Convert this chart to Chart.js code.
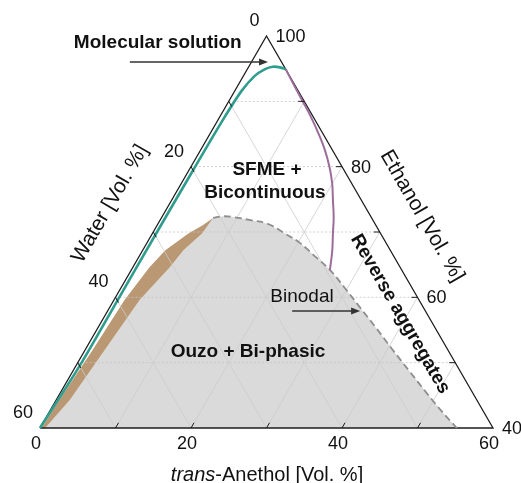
<!DOCTYPE html>
<html>
<head>
<meta charset="utf-8">
<script src="https://cdn.jsdelivr.net/npm/chart.js@4.4.0/dist/chart.umd.min.js"></script>
<style>
  html, body { margin: 0; padding: 0; background: #fff; }
  #wrap { width: 521px; height: 483px; }
</style>
</head>
<body>
<div id="wrap"><canvas id="ternary"></canvas></div>
<script>
// compositions, vol. % (ethanol = 100 - anethol - water)
const gridSteps = [10, 20, 30, 40, 50];
const anetholLabels = [0, 20, 40, 60];
const waterLabels = [0, 20, 40, 60];
const ethanolLabels = [40, 60, 80, 100];

const tealAnethol = [0, 0.5, 0.5, 0.5, 0.55, 0.65, 0.9, 1.5, 2.3, 3.2, 4.2, 5.1];
const tealWater   = [60, 50, 40, 30, 20, 12, 7.5, 4.6, 2.8, 1.5, 0.6, 0];

const purpleAnethol = [5.1, 7, 9.6, 12, 14.5, 16.5, 18.4, 20, 21.4, 22.8, 23.9, 25.2, 26.3];
const purpleWater   = [0, 0.1, 0.2, 0.3, 0.6, 1.0, 1.7, 2.6, 3.8, 5.0, 6.3, 7.8, 9.5];

const binodalAnethol = [6.85, 8, 9.4, 12, 14.4, 17.5, 20.3, 23.4, 26.3, 29.7, 33.1, 37, 40.8, 44.7, 48.6, 52, 55.2];
const binodalWater   = [21.0, 19.6, 18.3, 16.2, 14.3, 12.7, 11.4, 10.4, 9.5, 8.9, 8.4, 7.8, 7.3, 6.7, 6.1, 5.5, 4.8];

const tanLeftAnethol  = [0.2, 0.4, 1.0, 1.4, 2.2, 3.0, 4.8, 6.0, 6.85];
const tanLeftWater    = [59.8, 55.3, 47.1, 39.0, 33.2, 29.8, 25.4, 23.0, 21.0];
const tanRightAnethol = [0.7, 1.8, 2.6, 3.4, 4.9, 5.4, 6.6, 6.85];
const tanRightWater   = [59.3, 53.9, 45.5, 37.0, 30.5, 27.4, 23.6, 21.0];

const SQ = Math.sqrt(3) / 2;
// ternary -> plot units; bottom edge 0..60, apex at (30, 60*SQ)
function pt(a, w) {
  const e = 60 - a - w;
  return { x: a + e / 2, y: e * SQ };
}
function path(as, ws) { return as.map((a, i) => pt(a, ws[i])); }

const FONT = '"Liberation Sans", Arial, Helvetica, sans-serif';

function line(data, color, width, order, extra) {
  return Object.assign({
    data: data, showLine: true, pointRadius: 0, borderColor: color,
    borderWidth: width, fill: false, order: order, clip: false, tension: 0
  }, extra || {});
}

const datasets = [];

// grey two-phase region
datasets.push(line(
  path(tanRightAnethol, tanRightWater).concat(path(binodalAnethol, binodalWater)),
  'rgba(0,0,0,0)', 0, 100, { fill: 'shape', backgroundColor: '#dadada' }));

// tan strip
datasets.push(line(
  path(tanLeftAnethol, tanLeftWater).concat(path(tanRightAnethol, tanRightWater).reverse()),
  'rgba(0,0,0,0)', 0, 90, { fill: 'shape', backgroundColor: '#b99873' }));

// grid
gridSteps.forEach(k => {
  datasets.push(line([pt(k, 60 - k), pt(k, 0)], '#cbcbcb', 0.8, 80));
  datasets.push(line([pt(60 - k, k), pt(0, k)], '#cbcbcb', 0.8, 80));
  datasets.push(line([pt(0, 60 - k), pt(60 - k, 0)], '#c4c4c4', 0.8, 80, { borderDash: [2, 2] }));
});

// triangle frame
datasets.push(line([pt(0, 60), pt(60, 0), pt(0, 0), pt(0, 60)], '#1c1c1c', 1.3, 70));

datasets.push(line(path(binodalAnethol, binodalWater), '#8e8e8e', 1.8, 50,
  { borderDash: [7, 4], tension: 0.4 }));
datasets.push(line(path(purpleAnethol, purpleWater), '#9c6d9b', 2, 40, { tension: 0.4 }));
datasets.push(line(path(tealAnethol, tealWater), '#2f9d8e', 2.6, 30, { tension: 0.3 }));

function arrow(ctx, x1, y1, x2, y2) {
  ctx.strokeStyle = '#333';
  ctx.fillStyle = '#333';
  ctx.lineWidth = 1.5;
  ctx.beginPath();
  ctx.moveTo(x1, y1);
  ctx.lineTo(x2 - 6, y2);
  ctx.stroke();
  ctx.beginPath();
  ctx.moveTo(x2, y2);
  ctx.lineTo(x2 - 9, y2 - 3.5);
  ctx.lineTo(x2 - 9, y2 + 3.5);
  ctx.closePath();
  ctx.fill();
}

function rotText(ctx, txt, x, y, ang, font) {
  ctx.save();
  ctx.translate(x, y);
  ctx.rotate(ang);
  ctx.font = font;
  ctx.textAlign = 'center';
  ctx.textBaseline = 'middle';
  ctx.fillText(txt, 0, 0);
  ctx.restore();
}

const labelsPlugin = {
  id: 'ternaryLabels',
  afterDatasetsDraw(chart) {
    const ctx = chart.ctx;
    const sx = chart.scales.x, sy = chart.scales.y;
    const P = (p) => ({ x: sx.getPixelForValue(p.x), y: sy.getPixelForValue(p.y) });
    const U = (X, Y) => ({ x: sx.getPixelForValue(X), y: sy.getPixelForValue(Y) });
    ctx.save();

    // ticks
    ctx.strokeStyle = '#1c1c1c';
    ctx.lineWidth = 1;
    const L = 6;
    gridSteps.forEach(k => {
      let p = P(pt(k, 60 - k));
      ctx.beginPath(); ctx.moveTo(p.x, p.y); ctx.lineTo(p.x + L * 0.5, p.y - L * SQ); ctx.stroke();
      p = P(pt(0, k));
      ctx.beginPath(); ctx.moveTo(p.x, p.y); ctx.lineTo(p.x + L * 0.5, p.y + L * SQ); ctx.stroke();
      p = P(pt(60 - k, 0));
      ctx.beginPath(); ctx.moveTo(p.x, p.y); ctx.lineTo(p.x - L, p.y); ctx.stroke();
    });

    // tick labels
    ctx.fillStyle = '#111';
    ctx.font = '18px ' + FONT;
    ctx.textBaseline = 'middle';
    ctx.textAlign = 'center';
    anetholLabels.forEach(v => {
      const p = P(pt(v, 60 - v));
      ctx.fillText(String(v), p.x - 4, p.y + 16);
    });
    ctx.textAlign = 'right';
    waterLabels.forEach(v => {
      const p = P(pt(0, v));
      ctx.fillText(String(v), p.x - 7, p.y - 15);
    });
    ctx.textAlign = 'left';
    ethanolLabels.forEach(v => {
      const p = P(pt(100 - v, 0));
      ctx.fillText(String(v), p.x + 9, p.y + 1);
    });

    // axis titles
    const reg = '21px ' + FONT;
    let c = U(9.27, 29.7);
    rotText(ctx, 'Water [Vol. %]', c.x, c.y, -Math.PI / 3, reg);
    c = U(50.6, 28.1);
    rotText(ctx, 'Ethanol [Vol. %]', c.x, c.y, Math.PI / 3, reg);

    c = U(30.07, -6.23);
    ctx.textAlign = 'left';
    ctx.font = 'italic 20px ' + FONT;
    const w1 = ctx.measureText('trans').width;
    ctx.font = '20px ' + FONT;
    const w2 = ctx.measureText('-Anethol [Vol. %]').width;
    const x0 = c.x - (w1 + w2) / 2;
    ctx.font = 'italic 20px ' + FONT;
    ctx.fillText('trans', x0, c.y);
    ctx.font = '20px ' + FONT;
    ctx.fillText('-Anethol [Vol. %]', x0 + w1, c.y);

    // region annotations
    const bold = 'bold 19px ' + FONT;
    ctx.textAlign = 'center';
    ctx.font = bold;
    c = U(15.6, 51.0); ctx.fillText('Molecular solution', c.x, c.y);
    c = U(30.07, 34.2); ctx.fillText('SFME +', c.x, c.y);
    c = U(29.8, 31.15); ctx.fillText('Bicontinuous', c.x, c.y);
    c = U(27.55, 10.07); ctx.fillText('Ouzo + Bi-phasic', c.x, c.y);
    c = U(47.7, 15.1);
    rotText(ctx, 'Reverse aggregates', c.x, c.y, Math.PI / 3, bold);
    ctx.font = '19px ' + FONT;
    c = U(34.7, 17.36); ctx.fillText('Binodal', c.x, c.y);

    let a = U(11.9, 48.5), b = U(30.2, 48.5);
    arrow(ctx, a.x, a.y, b.x, b.y);
    a = U(33.4, 15.5); b = U(42.4, 15.5);
    arrow(ctx, a.x, a.y, b.x, b.y);

    ctx.restore();
  }
};

new Chart(document.getElementById('ternary'), {
  type: 'scatter',
  data: { datasets: datasets },
  options: {
    responsive: true,
    maintainAspectRatio: false,
    animation: false,
    events: [],
    layout: { padding: { left: 40, right: 28, top: 36, bottom: 55 } },
    plugins: { legend: { display: false }, tooltip: { enabled: false } },
    scales: {
      x: { type: 'linear', min: 0, max: 60, display: false },
      y: { type: 'linear', min: 0, max: 60 * SQ, display: false }
    }
  },
  plugins: [labelsPlugin]
});
</script>
</body>
</html>
